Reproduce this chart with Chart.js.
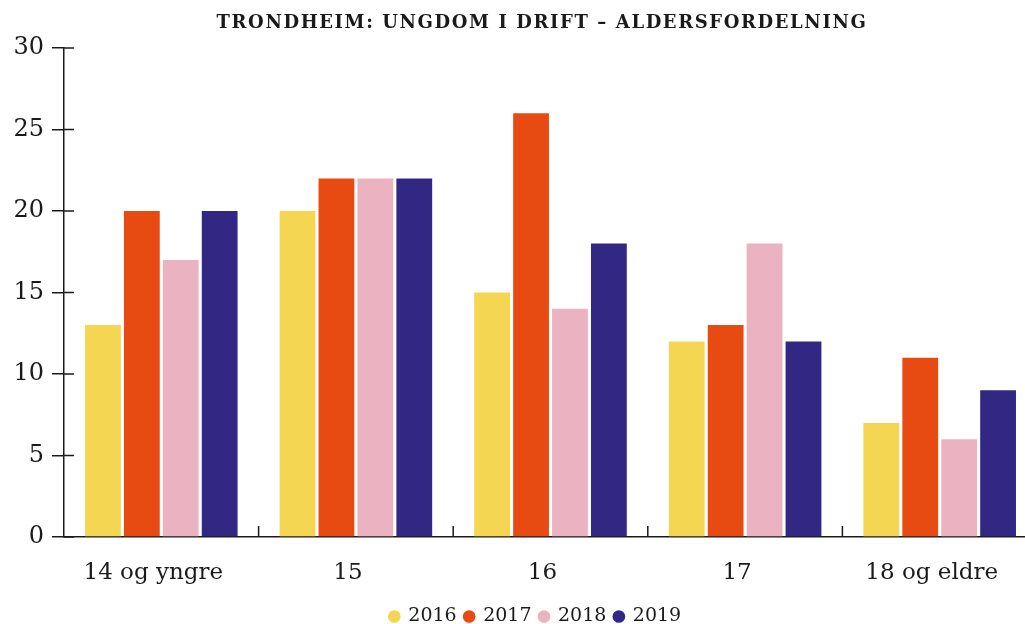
<!DOCTYPE html>
<html>
<head>
<meta charset="utf-8">
<script src="https://cdn.jsdelivr.net/npm/chart.js@4/dist/chart.umd.min.js"></script>
<style>
  html, body { margin: 0; padding: 0; background: #fff; overflow: hidden; }
  #wrap { width: 1080px; height: 624px; }
</style>
</head>
<body>
<div id="wrap"><canvas id="ageChart" width="1080" height="624"></canvas></div>
<script>
const titleText = 'TRONDHEIM: UNGDOM I DRIFT \u2013 ALDERSFORDELNING';
const categories = ['14 og yngre', '15', '16', '17', '18 og eldre'];
const years = ['2016', '2017', '2018', '2019'];
const colors = ['#F4D652', '#E84B12', '#EBB3C2', '#322783'];

const values2016 = [13, 20, 15, 12, 7];
const values2017 = [20, 22, 26, 13, 11];
const values2018 = [17, 22, 14, 18, 6];
const values2019 = [20, 22, 18, 12, 9];

const yTicks = [0, 5, 10, 15, 20, 25, 30];

const serif = "'DejaVu Serif', 'Liberation Serif', serif";
const ink = '#1a1a1a';

// title drawn by hand so it can have letter spacing
const titlePlugin = {
    id: 'spacedTitle',
    afterDraw(chart) {
        const ctx = chart.ctx;
        ctx.save();
        ctx.font = "bold 18px " + serif;
        ctx.letterSpacing = '1.6px';
        ctx.fillStyle = ink;
        ctx.textAlign = 'center';
        ctx.textBaseline = 'middle';
        ctx.fillText(titleText, 542, 23);
        ctx.restore();
    }
};

// nudge legend a bit right, it is centred on the page not the box
const legendShift = {
    id: 'legendShift',
    afterLayout(chart) {
        chart.legend.left += 17;
        chart.legend.right += 17;
    }
};

// short ticks on the inner side of both axes
const innerTicks = {
    id: 'innerTicks',
    afterDraw(chart) {
        const ctx = chart.ctx;
        const x = chart.scales.x;
        const y = chart.scales.y;
        ctx.save();
        ctx.strokeStyle = ink;
        ctx.lineWidth = 1.5;
        ctx.beginPath();
        yTicks.forEach(v => {
            const py = y.getPixelForValue(v);
            ctx.moveTo(y.right, py);
            ctx.lineTo(y.right + 10, py);
        });
        for (let i = 1; i < categories.length; i++) {
            const px = (x.getPixelForTick(i - 1) + x.getPixelForTick(i)) / 2;
            ctx.moveTo(px, x.top);
            ctx.lineTo(px, x.top - 11);
        }
        ctx.stroke();
        ctx.restore();
    }
};

const ctx = document.getElementById('ageChart').getContext('2d');
new Chart(ctx, {
    type: 'bar',
    data: {
        labels: categories,
        datasets: [values2016, values2017, values2018, values2019].map((vals, i) => ({
            label: years[i],
            data: vals,
            backgroundColor: colors[i],
            borderWidth: 0,
            barPercentage: 0.92,
            categoryPercentage: 0.8
        }))
    },
    options: {
        responsive: false,
        animation: false,
        layout: {
            padding: { top: 48, right: 43, left: 0, bottom: -12 }
        },
        scales: {
            x: {
                afterFit(scale) { scale.height = 62; },
                grid: { display: false, drawTicks: false },
                border: { display: true, color: ink, width: 1.5 },
                ticks: {
                    color: ink,
                    font: { family: serif, size: 23 },
                    padding: 22,
                    labelOffset: -8
                }
            },
            y: {
                min: 0,
                max: 30,
                afterFit(scale) { scale.width = 64; },
                afterBuildTicks(scale) { scale.ticks = yTicks.map(v => ({ value: v })); },
                grid: {
                    drawOnChartArea: false,
                    tickLength: 12,
                    color: ink,
                    lineWidth: 1.5
                },
                border: { display: true, color: ink, width: 1.5 },
                ticks: {
                    color: ink,
                    font: { family: serif, size: 24 },
                    padding: 8
                }
            }
        },
        plugins: {
            title: { display: false },
            tooltip: { enabled: false },
            legend: {
                position: 'bottom',
                labels: {
                    usePointStyle: true,
                    pointStyle: 'circle',
                    boxWidth: 9,
                    boxHeight: 9,
                    padding: 8,
                    color: ink,
                    font: { family: serif, size: 19 }
                }
            }
        }
    },
    plugins: [titlePlugin, legendShift, innerTicks]
});
</script>
</body>
</html>
